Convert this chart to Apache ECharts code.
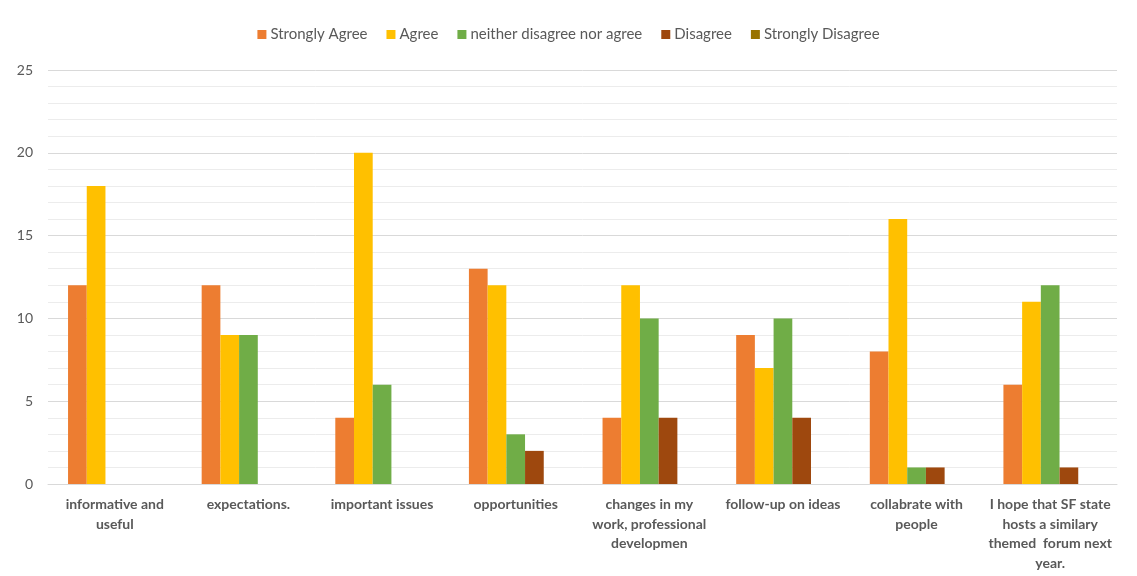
<!DOCTYPE html>
<html>
<head>
<meta charset="utf-8">
<script src="https://cdn.jsdelivr.net/npm/echarts@6/dist/echarts.min.js"></script>
<style>
  html, body { margin: 0; padding: 0; background: #fff; }
  #main { width: 1137px; height: 576px; }
</style>
</head>
<body>
<div id="main"></div>
<script>
var categories = [
    'informative and\nuseful',
    'expectations.',
    'important issues',
    'opportunities',
    'changes in my\nwork, professional\ndevelopmen',
    'follow-up on ideas',
    'collabrate with\npeople',
    'I hope that SF state\nhosts a similary\nthemed  forum next\nyear.'
]
var seriesNames = ['Strongly Agree', 'Agree', 'neither disagree nor agree', 'Disagree', 'Strongly Disagree']
var stronglyAgree = [12, 12, 4, 13, 4, 9, 8, 6]
var agree = [18, 9, 20, 12, 12, 7, 16, 11]
var neither = [0, 9, 6, 3, 10, 10, 1, 12]
var disagree = [0, 0, 0, 2, 4, 4, 1, 1]
var stronglyDisagree = [0, 0, 0, 0, 0, 0, 0, 0]
var yTicks = [0, 5, 10, 15, 20, 25]

var colors = ['#ED7D31', '#FFC000', '#70AD47', '#9E480E', '#997300']
var font = 'Lato, "Open Sans", sans-serif'
var values = [stronglyAgree, agree, neither, disagree, stronglyDisagree]

var chart = echarts.init(document.getElementById('main'))
chart.setOption({
    animation: false,
    backgroundColor: '#fff',
    color: colors,
    legend: {
        top: 22,
        left: 'center',
        itemWidth: 9,
        itemHeight: 9,
        itemGap: 19,
        icon: 'rect',
        textStyle: { color: '#595959', fontSize: 15, fontFamily: font, padding: [0, 0, 0, -1] },
        data: seriesNames
    },
    grid: { left: 48, right: 20, top: 70, bottom: 92 },
    xAxis: {
        type: 'category',
        data: categories,
        axisLine: { lineStyle: { color: '#d9d9d9' } },
        axisTick: { show: false },
        axisLabel: {
            interval: 0,
            margin: 11,
            color: '#595959',
            fontSize: 14,
            fontWeight: 'bold',
            fontFamily: font,
            lineHeight: 19.5
        }
    },
    yAxis: {
        type: 'value',
        min: yTicks[0],
        max: yTicks[yTicks.length - 1],
        interval: 5,
        axisLine: { show: false },
        axisTick: { show: false },
        axisLabel: { color: '#595959', fontSize: 14, fontFamily: font, margin: 15 },
        splitLine: { lineStyle: { color: '#d9d9d9' } },
        minorTick: { show: false, splitNumber: 5 },
        minorSplitLine: { show: true, lineStyle: { color: '#ececec' } }
    },
    series: seriesNames.map(function(name, i) {
        return {
            name: name,
            type: 'bar',
            data: values[i],
            barGap: '0%',
            barCategoryGap: '30%'
        }
    })
})
</script>
</body>
</html>
